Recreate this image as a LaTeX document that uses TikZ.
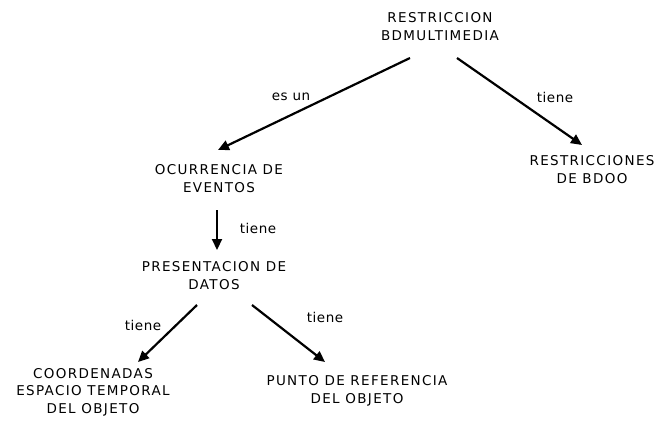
\documentclass[tikz,border=0pt]{standalone}
\usepackage{fontspec}
\setmainfont{DejaVu Sans}[LetterSpace=10]
\newfontfamily\lblfont{DejaVu Sans}[LetterSpace=4]
\usetikzlibrary{arrows.meta}
\begin{document}
\begin{tikzpicture}[x=1pt,y=-1pt,
  concept/.style={inner sep=0pt,align=center,font=\fontsize{13.5}{17.5}\selectfont},
  lbl/.style={inner sep=0pt,font=\lblfont\fontsize{13.5}{14}\selectfont},
  link/.style={line width=2.2pt,-{Triangle[length=11pt,width=10pt]}}]
\useasboundingbox (0,0) rectangle (655,420);
\node[concept] (root) at (440,26.5) {RESTRICCION\\BDMULTIMEDIA};
\node[concept] (ocu) at (219,178.5) {OCURRENCIA DE\\EVENTOS};
\node[concept] (bdoo) at (592,169.5) {RESTRICCIONES\\DE BDOO};
\node[concept] (pres) at (214,275.5) {PRESENTACION DE\\DATOS};
\node[concept] (coord) at (93,392) {COORDENADAS\\ESPACIO TEMPORAL\\DEL OBJETO};
\node[concept] (punto) at (357,391) {PUNTO DE REFERENCIA\\DEL OBJETO};
\draw[link] ([shift={(-30,31.5)}]root.center) -- ([shift={(-1,-28.5)}]ocu.center);
\draw[link] ([shift={(17,31.5)}]root.center) -- ([shift={(-10,-24.5)}]bdoo.center);
\draw[link] ([shift={(-2,31.5)}]ocu.center) -- ([shift={(3,-25.5)}]pres.center);
\draw[link] ([shift={(-17,29.5)}]pres.center) -- ([shift={(45,-30)}]coord.center);
\draw[link] ([shift={(38,29.5)}]pres.center) -- ([shift={(-32,-29)}]punto.center);
\node[lbl] (l1) at (291,97) {es un};
\node[lbl] (l2) at (555,97) {tiene};
\node[lbl] (l3) at (258,228) {tiene};
\node[lbl] (l4) at (143,325) {tiene};
\node[lbl] (l5) at (325,317) {tiene};
\end{tikzpicture}
\end{document}
